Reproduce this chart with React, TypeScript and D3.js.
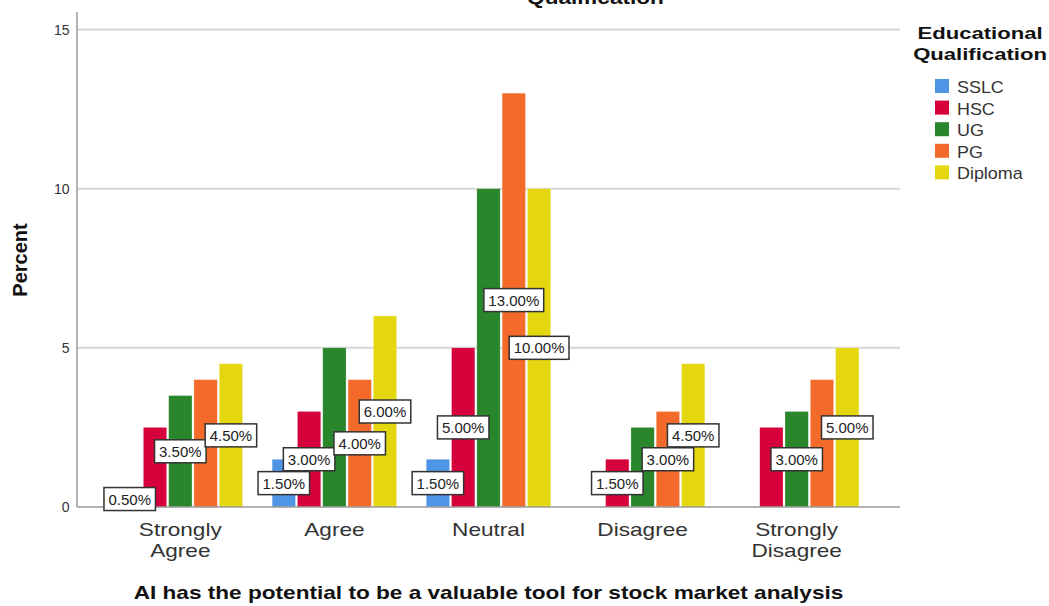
import React from "react";
import * as d3 from "d3";

// Response categories along the x axis
const categories = ["Strongly Agree", "Agree", "Neutral", "Disagree", "Strongly Disagree"];
const categoryLines = [["Strongly", "Agree"], ["Agree"], ["Neutral"], ["Disagree"], ["Strongly", "Disagree"]];

// Educational qualification groups (legend order)
const qualifications = ["SSLC", "HSC", "UG", "PG", "Diploma"];

// Percent of respondents per category, one array per qualification
const sslc = [0.5, 1.5, 1.5, 0, 0];
const hsc = [2.5, 3.0, 5.0, 1.5, 2.5];
const ug = [3.5, 5.0, 10.0, 2.5, 3.0];
const pg = [4.0, 4.0, 13.0, 3.0, 4.0];
const diploma = [4.5, 6.0, 10.0, 4.5, 5.0];

// Which bars carry a value label
const sslcLabelled = [true, true, true, false, false];
const hscLabelled = [false, true, true, true, false];
const ugLabelled = [true, false, false, false, true];
const pgLabelled = [false, true, true, true, false];
const diplomaLabelled = [true, true, true, true, true];

const yTicks = [0, 5, 10, 15];

const colors = ["#4f95e6", "#d6003a", "#2a862b", "#f36a2a", "#e5d70f"];

const seriesValues = [sslc, hsc, ug, pg, diploma];
const seriesLabelled = [sslcLabelled, hscLabelled, ugLabelled, pgLabelled, diplomaLabelled];

const FONT = "'Liberation Sans', Arial, Helvetica, sans-serif";

const W = 1049;
const H = 606;
const left = 77;
const right = 900;
const bottom = 507;
const top = 29.5;

function Stretched({ x, y, sx, children, ...rest }: any) {
  return (
    <text transform={`translate(${x},${y}) scale(${sx},1)`} {...rest}>
      {children}
    </text>
  );
}

export default function App() {
  const x0 = d3.scaleBand<string>().domain(categories).range([left, right]).paddingInner(0.179).paddingOuter(0.26);
  const x1 = d3.scaleBand<string>().domain(qualifications).range([0, x0.bandwidth()]).paddingInner(0.08).paddingOuter(0.04);
  const y = d3.scaleLinear().domain([0, 15]).range([bottom, top]);

  const bars: any[] = [];
  const labels: any[] = [];
  categories.forEach((cat, ci) => {
    qualifications.forEach((q, si) => {
      const v = seriesValues[si][ci];
      if (!v) return;
      const bx = (x0(cat) as number) + (x1(q) as number);
      const bw = x1.bandwidth();
      bars.push(
        <rect key={`b-${ci}-${si}`} x={bx} y={y(v)} width={bw} height={y(0) - y(v)} fill={colors[si]} stroke="#ffffff" strokeOpacity={0.35} strokeWidth={0.6} />
      );
      if (seriesLabelled[si][ci]) {
        const text = `${v.toFixed(2)}%`;
        const cx = bx + bw / 2;
        const cy = (y(v) + y(0)) / 2;
        const tw = text.length * 8.3 + 1;
        const bwid = tw + 9;
        labels.push(
          <g key={`l-${ci}-${si}`}>
            <rect x={cx - bwid / 2} y={cy - 11.5} width={bwid} height={23} fill="#ffffff" stroke="#333333" strokeWidth={1.5} />
            <text x={cx} y={cy + 5.5} textAnchor="middle" fontFamily={FONT} fontSize={15} fill="#222222">
              {text}
            </text>
          </g>
        );
      }
    });
  });

  return (
    <svg width={W} height={H} style={{ position: "absolute", left: 0, top: 0, background: "#ffffff" }}>
      <rect x={0} y={0} width={W} height={H} fill="#ffffff" />

      {/* chart title, only its last line shows at the top edge */}
      <Stretched x={595.5} y={3.5} sx={1.19} textAnchor="middle" fontFamily={FONT} fontWeight="bold" fontSize={19} fill="#111111">
        Qualification
      </Stretched>

      {/* grid lines */}
      {yTicks.filter((t) => t > 0).map((t) => (
        <line key={`g-${t}`} x1={left} x2={right} y1={y(t)} y2={y(t)} stroke="#d6d6d6" strokeWidth={2} />
      ))}

      {/* y tick labels */}
      {yTicks.map((t) => (
        <text key={`t-${t}`} x={69.5} y={y(t) + 5} textAnchor="end" fontFamily={FONT} fontSize={14} fill="#333333">
          {t}
        </text>
      ))}

      {bars}

      {/* axes */}
      <line x1={left} x2={left} y1={12} y2={bottom} stroke="#9a9a9a" strokeWidth={1.5} />
      <line x1={left} x2={right} y1={bottom} y2={bottom} stroke="#9a9a9a" strokeWidth={1.5} />

      {labels}

      {/* category labels */}
      {categories.map((cat, ci) => {
        const cx = (x0(cat) as number) + x0.bandwidth() / 2;
        return categoryLines[ci].map((ln, li) => (
          <Stretched key={`c-${ci}-${li}`} x={cx} y={536 + li * 21} sx={1.19} textAnchor="middle" fontFamily={FONT} fontSize={19} fill="#333333">
            {ln}
          </Stretched>
        ));
      })}

      {/* axis titles */}
      <Stretched x={488.5} y={599} sx={1.19} textAnchor="middle" fontFamily={FONT} fontWeight="bold" fontSize={19} fill="#111111">
        AI has the potential to be a valuable tool for stock market analysis
      </Stretched>
      <text transform="translate(27,260) rotate(-90)" textAnchor="middle" fontFamily={FONT} fontWeight="bold" fontSize={20} fill="#111111">
        Percent
      </text>

      {/* legend */}
      <Stretched x={980} y={39} sx={1.3} textAnchor="middle" fontFamily={FONT} fontWeight="bold" fontSize={17} fill="#111111">
        Educational
      </Stretched>
      <Stretched x={980} y={60} sx={1.3} textAnchor="middle" fontFamily={FONT} fontWeight="bold" fontSize={17} fill="#111111">
        Qualification
      </Stretched>
      {qualifications.map((q, i) => (
        <g key={`lg-${q}`}>
          <rect x={935} y={79 + i * 21.6} width={14} height={14} fill={colors[i]} />
          <Stretched x={957} y={93 + i * 21.6} sx={1.12} fontFamily={FONT} fontSize={16} fill="#333333">
            {q}
          </Stretched>
        </g>
      ))}
    </svg>
  );
}
